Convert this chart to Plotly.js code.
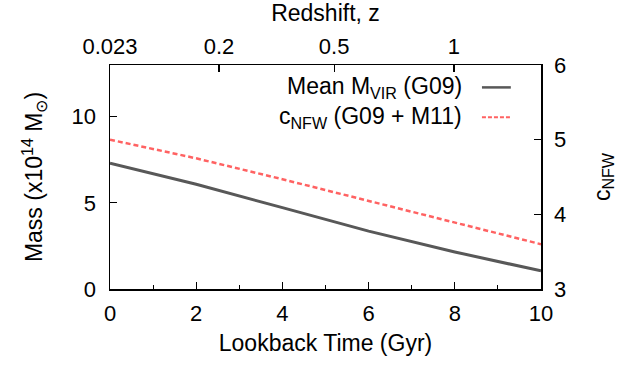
<!DOCTYPE html>
<html>
<head>
<meta charset="utf-8">
<script src="https://cdn.plot.ly/plotly-3.0.1.min.js"></script>
<style>html,body{margin:0;padding:0;background:#fff;}#chart{width:638px;height:367px;}</style>
</head>
<body>
<div id="chart"></div>
<script>
// Lookback time (Gyr)
const lookback = [0, 2, 4, 6, 8, 10];
// Mean virial mass (x10^14 Msun), G09
const massVir = [7.30, 6.08, 4.72, 3.36, 2.15, 1.05];
// NFW concentration, G09 + M11
const cNFW = [5.00, 4.75, 4.47, 4.18, 3.88, 3.60];
// Top axis: redshift labels and their lookback-time positions
const zLabels = ['0.023', '0.2', '0.5', '1'];
const zPositions = [0, 2.53, 5.2, 7.98];

const font = 'Liberation Sans, Arial, Helvetica, sans-serif';
const traces = [
  {x: lookback, y: massVir, type: 'scatter', mode: 'lines', xaxis: 'x', yaxis: 'y',
   line: {color: '#585858', width: 3}, showlegend: false},
  {x: lookback, y: cNFW, type: 'scatter', mode: 'lines', xaxis: 'x', yaxis: 'y2',
   line: {color: '#ff6262', width: 2.5, dash: '5px,3px'}, showlegend: false},
  // invisible trace to activate top axis
  {x: [0, 10], y: [0, 0], type: 'scatter', mode: 'lines', xaxis: 'x2', yaxis: 'y',
   line: {width: 0}, hoverinfo: 'skip', showlegend: false}
];

const layout = {
  width: 638, height: 367,
  margin: {l: 110, r: 97, t: 65, b: 78},
  paper_bgcolor: '#fff', plot_bgcolor: '#fff',
  font: {family: font, color: '#000', size: 22},
  showlegend: false,
  xaxis: {
    range: [0, 10], tickvals: [0, 2, 4, 6, 8, 10], ticks: 'inside', ticklen: 7, tickwidth: 1.2,
    tickcolor: '#000', showline: true, linecolor: '#000', linewidth: 1.5, showgrid: false, zeroline: false,
    minor: {dtick: 1, ticks: 'inside', ticklen: 4, tickcolor: '#000', tickwidth: 1},
    tickfont: {size: 22}, ticklabelstandoff: 4,
    title: {text: 'Lookback Time (Gyr)', font: {size: 23}, standoff: 10}
  },
  xaxis2: {
    overlaying: 'x', side: 'top', range: [0, 10], tickvals: zPositions, ticktext: zLabels,
    ticks: 'inside', ticklen: 7, tickwidth: 1.2, tickcolor: '#000', showline: true, linecolor: '#000',
    linewidth: 1.5, showgrid: false, zeroline: false, tickfont: {size: 22}, ticklabelstandoff: 1,
    title: {text: 'Redshift, z', font: {size: 23}, standoff: 8}
  },
  yaxis: {
    range: [0, 13], tickvals: [0, 5, 10], ticks: 'inside', ticklen: 7, tickwidth: 1.2, tickcolor: '#000',
    showline: true, linecolor: '#000', linewidth: 1.5, showgrid: false, zeroline: false,
    tickfont: {size: 22}, ticklabelstandoff: 8,
    title: {text: 'Mass (x10<sup>14</sup> M<sub>⊙</sub>)', font: {size: 23}, standoff: 22}
  },
  yaxis2: {
    overlaying: 'y', side: 'right', range: [3, 6], tickvals: [3, 4, 5, 6], ticks: 'inside', ticklen: 7,
    tickwidth: 1.2, tickcolor: '#000', showline: true, linecolor: '#000', linewidth: 1.5,
    showgrid: false, zeroline: false, tickfont: {size: 22}, ticklabelstandoff: 7,
    title: {text: 'c<sub>NFW</sub>', font: {size: 23}, standoff: 28}
  },
  annotations: [
    {xref: 'paper', yref: 'paper', x: 0.822, y: 0.9, xanchor: 'right', yanchor: 'middle', showarrow: false,
     text: 'Mean M<sub>VIR</sub> (G09)', font: {size: 23}},
    {xref: 'paper', yref: 'paper', x: 0.822, y: 0.765, xanchor: 'right', yanchor: 'middle', showarrow: false,
     text: 'c<sub>NFW</sub> (G09 + M11)', font: {size: 23}}
  ],
  shapes: [
    {type: 'line', xref: 'paper', yref: 'paper', x0: 0.863, x1: 0.93, y0: 0.9, y1: 0.9,
     line: {color: '#585858', width: 2.5}},
    {type: 'line', xref: 'paper', yref: 'paper', x0: 0.863, x1: 0.93, y0: 0.767, y1: 0.767,
     line: {color: '#ff6262', width: 2, dash: '4px,2px'}}
  ]
};

Plotly.newPlot('chart', traces, layout, {displayModeBar: false, staticPlot: true});
</script>
</body>
</html>
